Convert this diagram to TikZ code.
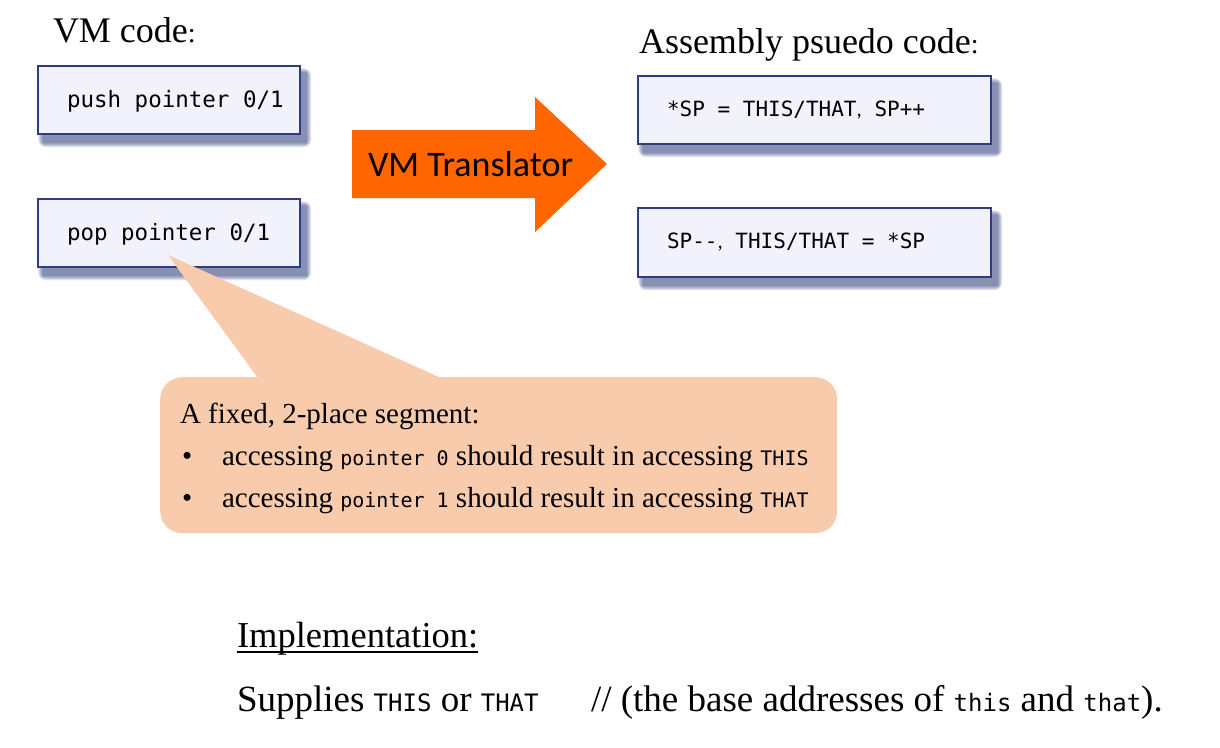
\documentclass[tikz,border=0pt]{standalone}
\usepackage{fontspec}
\setmainfont{Liberation Serif}
\newfontfamily\monof{DejaVu Sans Mono}
\newfontfamily\calib{Carlito}
\usetikzlibrary{calc}
\pgfdeclarelayer{bottomlayer}
\pgfdeclarelayer{background}
\pgfsetlayers{bottomlayer,background,main}
\definecolor{boxfill}{HTML}{F1F2FC}
\definecolor{boxdraw}{HTML}{2F3C7E}
\definecolor{shadowc}{HTML}{34427F}
\definecolor{vmorange}{HTML}{FF6600}
\definecolor{peach}{HTML}{F8CBAD}
\tikzset{
  vmbox/.style={draw=boxdraw, fill=boxfill, line width=1.5pt, inner sep=0pt, anchor=north west},
  txt/.style={anchor=base west, inner sep=0pt, outer sep=0pt},
}
\newcommand{\boxshadow}[1]{%
  \begin{pgfonlayer}{background}
  \foreach \r in {8,7,...,0}{
    \fill[shadowc, opacity=0.09, rounded corners=\r pt]
      ($(#1.north west)+(6-\r*0.6,8-\r*0.6)$) rectangle ($(#1.south east)+(6+\r*0.6,8+\r*0.6)$);
  }
  \end{pgfonlayer}}
\newcommand{\ttf}[1]{{\monof\fontsize{24}{27}\selectfont #1}}
\newcommand{\ttc}[1]{{\monof\fontsize{20}{23}\selectfont #1}}
\begin{document}
\begin{tikzpicture}[x=1pt,y=-1pt]
\begin{pgfonlayer}{bottomlayer}
\fill[white] (0,0) rectangle (1220,747);
\end{pgfonlayer}
\useasboundingbox (0,0) rectangle (1220,747);

% titles
\node[txt] (vmtitle) at (53,42) {\fontsize{36}{40}\selectfont VM code{\fontsize{28}{30}\selectfont :}};
\node[txt] (asmtitle) at (639,53) {\fontsize{36}{40}\selectfont Assembly psuedo code{\fontsize{28}{30}\selectfont :}};

% VM code boxes
\node[vmbox, minimum width=262pt, minimum height=68pt] (push) at (37,65) {};
\node[vmbox, minimum width=262pt, minimum height=68pt] (pop) at (37,198) {};
\boxshadow{push}
\boxshadow{pop}
\node[txt] (pusht) at (67,107) {\monof\fontsize{22.5}{26}\selectfont push pointer 0/1};
\node[txt] (popt) at (67,240) {\monof\fontsize{22.5}{26}\selectfont pop pointer 0/1};

% assembly boxes
\node[vmbox, minimum width=353pt, minimum height=68pt] (asm1) at (637,75) {};
\node[vmbox, minimum width=353pt, minimum height=69pt] (asm2) at (637,207) {};
\boxshadow{asm1}
\boxshadow{asm2}
\node[txt] (asm1t) at (667,116) {\monof\fontsize{21}{24}\selectfont *SP = THIS/THAT{\calib,} SP++};
\node[txt] (asm2t) at (667,248) {\monof\fontsize{21}{24}\selectfont SP-{}-{\calib,} THIS/THAT = *SP};

% big arrow
\fill[vmorange] (352,130) -- (535,130) -- (535,97) -- (607,164) -- (535,232) -- (535,198) -- (352,198) -- cycle;
\node[txt] (vmtr) at (368,176) {\calib\fontsize{36}{40}\selectfont VM Translator};

% callout
\node[anchor=north west, fill=peach, rounded corners=22pt, minimum width=677pt, minimum height=156pt, inner sep=0pt] (callout) at (160,377) {};
\coordinate (tip) at (168,255);
\fill[peach] (tip) -- ($(callout.north west)+(98,1)$) -- ($(callout.north west)+(281,1)$) -- cycle;
\node[txt] (c1) at (180,423) {\fontsize{29}{32}\selectfont A fixed, 2-place segment:};
\node[txt] (b1) at (182,465) {\fontsize{29}{32}\selectfont\textbullet};
\node[txt] (c2) at (222,465) {\fontsize{29}{32}\selectfont accessing \ttc{pointer 0} should result in accessing \ttc{THIS}};
\node[txt] (b2) at (182,507) {\fontsize{29}{32}\selectfont\textbullet};
\node[txt] (c3) at (222,507) {\fontsize{29}{32}\selectfont accessing \ttc{pointer 1} should result in accessing \ttc{THAT}};

% implementation
\node[txt] (impl) at (237,647) {\fontsize{36.5}{40}\selectfont Implementation:};
\draw[line width=1.3pt] ($(impl.base west)+(0,5)$) -- ($(impl.base east)+(0,5)$);
\node[txt] (sup) at (237,711) {\fontsize{37}{40}\selectfont Supplies \ttf{THIS} or \ttf{THAT}};
\node[txt] (cmt) at (591,711) {\fontsize{37}{40}\selectfont // (the base addresses of \ttf{this} and \ttf{that}).};
\end{tikzpicture}
\end{document}
